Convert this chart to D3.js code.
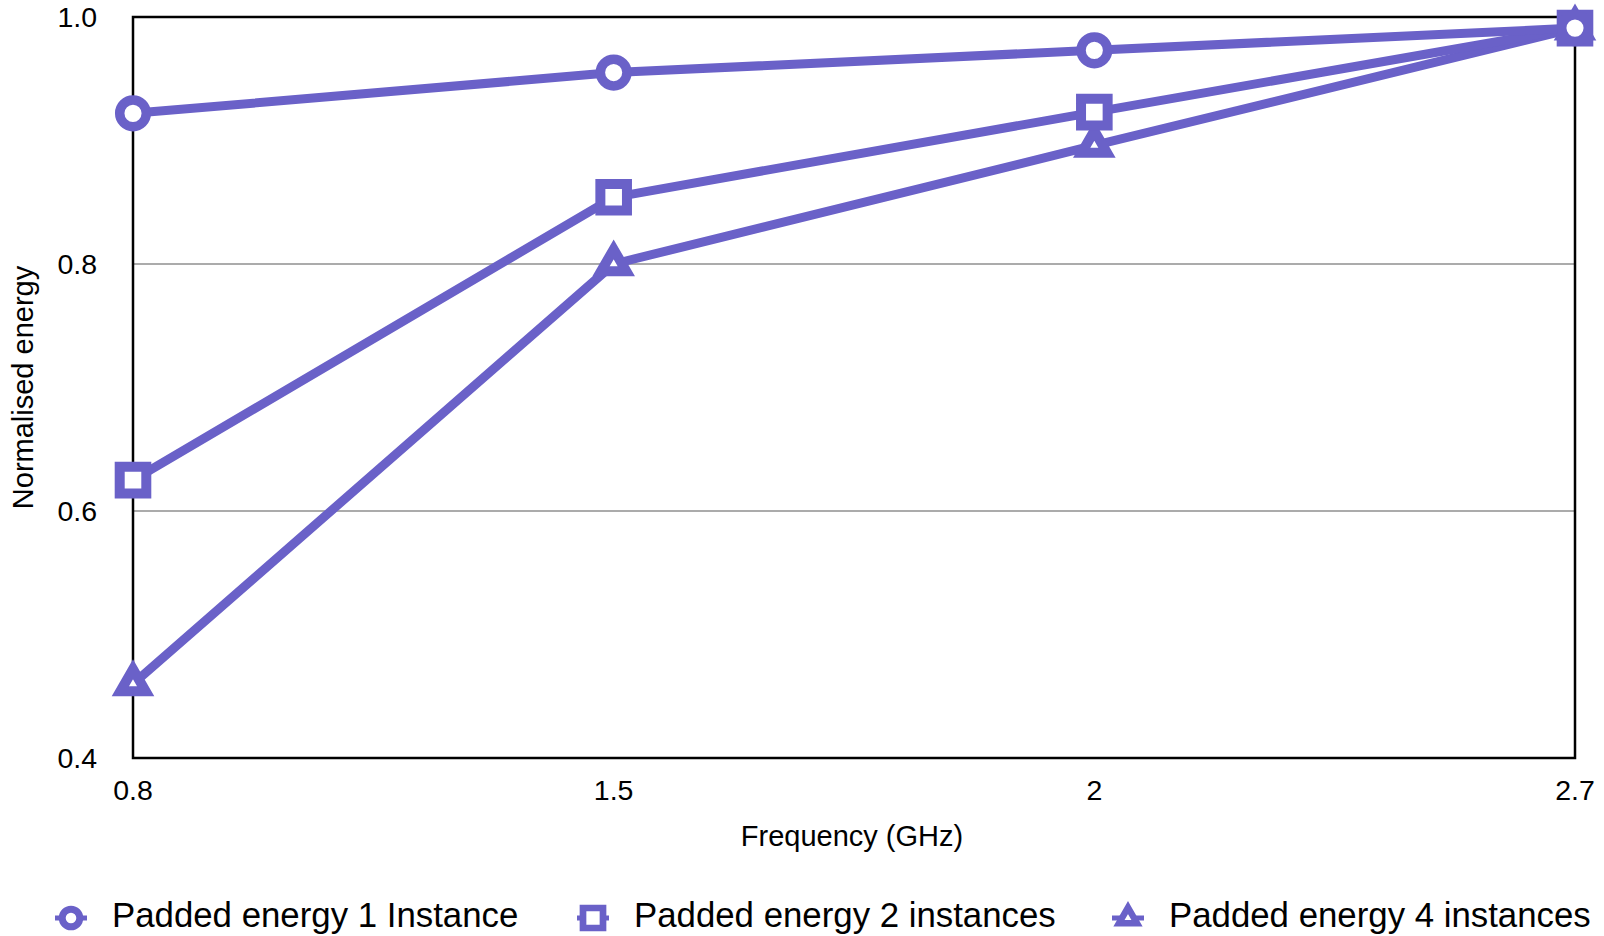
<!DOCTYPE html>
<html>
<head>
<meta charset="utf-8">
<script src="https://cdn.jsdelivr.net/npm/d3@7"></script>
<style>
  html, body { margin: 0; padding: 0; background: #fff; }
  svg { display: block; font-family: "Liberation Sans", Arial, Helvetica, sans-serif; }
</style>
</head>
<body>
<svg id="chart" width="1604" height="936"></svg>
<script>
// Frequencies (GHz) on the x axis
const frequencies = ["0.8", "1.5", "2", "2.7"];

// Normalised energy per series
const padded1 = [0.922, 0.955, 0.973, 0.991];
const padded2 = [0.625, 0.854, 0.923, 0.991];
const padded4 = [0.46, 0.80, 0.896, 0.991];

const seriesNames = ["Padded energy 1 Instance", "Padded energy 2 instances", "Padded energy 4 instances"];

const yTicks = [0.4, 0.6, 0.8, 1.0];
const gridTicks = [0.6, 0.8];

const color = "#6a61c8";

const svg = d3.select("#chart");
const plot = { left: 133, right: 1575, top: 17, bottom: 758 };

const x = d3.scalePoint().domain(frequencies).range([plot.left, plot.right]);
const y = d3.scaleLinear().domain([0.4, 1.0]).range([plot.bottom, plot.top]);

// horizontal grid lines
svg.append("g").selectAll("line").data(gridTicks).join("line")
  .attr("x1", plot.left).attr("x2", plot.right)
  .attr("y1", d => y(d)).attr("y2", d => y(d))
  .attr("stroke", "#ababab").attr("stroke-width", 2);

// plot frame
svg.append("rect")
  .attr("x", plot.left).attr("y", plot.top)
  .attr("width", plot.right - plot.left).attr("height", plot.bottom - plot.top)
  .attr("fill", "none").attr("stroke", "#000").attr("stroke-width", 2.5);

// y tick labels
svg.append("g").selectAll("text").data(yTicks).join("text")
  .attr("x", 97).attr("y", d => y(d)).attr("dy", "0.36em")
  .attr("text-anchor", "end").attr("font-size", 28.5).attr("fill", "#000")
  .text(d => d3.format(".1f")(d));

// x tick labels
svg.append("g").selectAll("text").data(frequencies).join("text")
  .attr("x", d => x(d)).attr("y", 800)
  .attr("text-anchor", "middle").attr("font-size", 28.5).attr("fill", "#000")
  .text(d => d);

// axis titles
svg.append("text")
  .attr("x", (plot.left + plot.right) / 2 - 2).attr("y", 846)
  .attr("text-anchor", "middle").attr("font-size", 29)
  .text("Frequency (GHz)");

svg.append("text")
  .attr("transform", `translate(33, ${(plot.top + plot.bottom) / 2}) rotate(-90)`)
  .attr("text-anchor", "middle").attr("font-size", 29)
  .text("Normalised energy");

// marker shapes
function circlePath(r) {
  return `M${-r},0A${r},${r} 0 1,0 ${r},0A${r},${r} 0 1,0 ${-r},0Z`;
}
function squarePath(h) {
  return `M${-h},${-h}H${h}V${h}H${-h}Z`;
}
function trianglePath(r) {
  const hw = r * Math.sqrt(3);
  return `M0,${-2 * r}L${hw},${r}L${-hw},${r}Z`;
}

const series = [
  { name: seriesNames[2], values: padded4, shape: "triangle" },
  { name: seriesNames[1], values: padded2, shape: "square" },
  { name: seriesNames[0], values: padded1, shape: "circle" }
];

const markerFor = {
  circle: { d: circlePath(13.3), w: 9.5 },
  square: { d: squarePath(13.3), w: 10 },
  triangle: { d: trianglePath(7.3), w: 10 }
};

const line = d3.line().x((d, i) => x(frequencies[i])).y(d => y(d));

series.forEach(s => {
  const g = svg.append("g");
  g.append("path")
    .attr("d", line(s.values))
    .attr("fill", "none").attr("stroke", color)
    .attr("stroke-width", 9).attr("stroke-linejoin", "round");
  g.selectAll("path.marker").data(s.values).join("path")
    .attr("class", "marker")
    .attr("transform", (d, i) => `translate(${x(frequencies[i])},${y(d)})`)
    .attr("d", markerFor[s.shape].d)
    .attr("fill", "#fff").attr("stroke", color)
    .attr("stroke-width", markerFor[s.shape].w)
    .attr("stroke-linejoin", "miter");
});

// legend
const legendItems = [
  { name: seriesNames[0], shape: "circle", cx: 71 },
  { name: seriesNames[1], shape: "square", cx: 593 },
  { name: seriesNames[2], shape: "triangle", cx: 1128 }
];
const legendMarkers = {
  circle: { d: circlePath(8.8), w: 7 },
  square: { d: squarePath(10), w: 6.7 },
  triangle: { d: trianglePath(5.2), w: 6.5 }
};
const legendY = 918;
const lg = svg.append("g");
legendItems.forEach(it => {
  lg.append("line")
    .attr("x1", it.cx - 16).attr("x2", it.cx + 16)
    .attr("y1", legendY).attr("y2", legendY)
    .attr("stroke", color).attr("stroke-width", 5);
  lg.append("path")
    .attr("transform", `translate(${it.cx},${legendY})`)
    .attr("d", legendMarkers[it.shape].d)
    .attr("fill", "#fff").attr("stroke", color)
    .attr("stroke-width", legendMarkers[it.shape].w);
  lg.append("text")
    .attr("x", it.cx + 41).attr("y", 927)
    .attr("font-size", 34.8).attr("fill", "#000")
    .text(it.name);
});
</script>
</body>
</html>
